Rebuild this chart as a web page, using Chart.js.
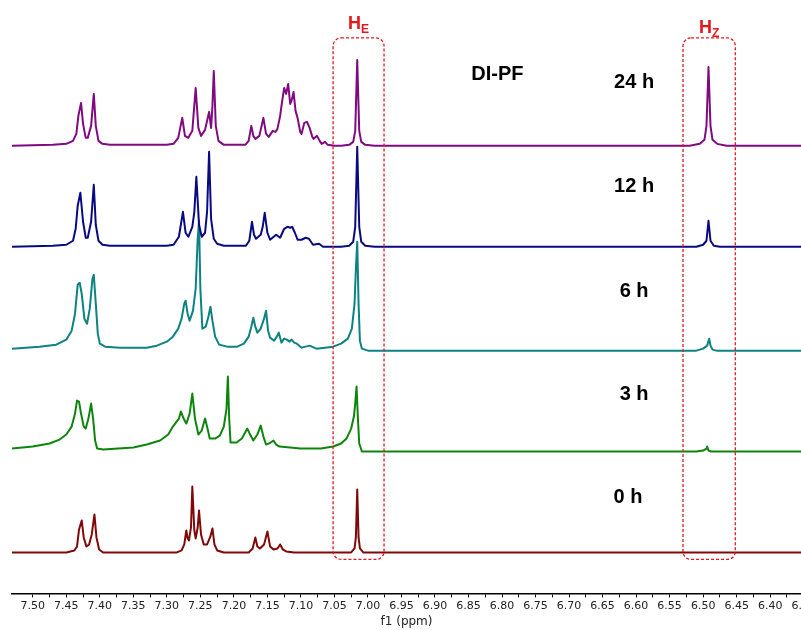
<!DOCTYPE html>
<html>
<head>
<meta charset="utf-8">
<script src="https://cdn.jsdelivr.net/npm/chart.js@4.4.1/dist/chart.umd.min.js"></script>
<style>
  html, body { margin: 0; padding: 0; background: #fff; }
  #wrap { width: 801px; height: 630px; position: relative; }
</style>
</head>
<body>
<div id="wrap"><canvas id="nmr"></canvas></div>
<script>
// stacked 1H NMR spectra (ppm / intensity)
const seriesNames = ["24 h", "12 h", "6 h", "3 h", "0 h"];
const stackOffset = [448, 347, 245, 145, 41];

const ppm24 = [7.531, 7.470, 7.450, 7.440, 7.435, 7.432, 7.428, 7.425, 7.421, 7.418, 7.413, 7.409, 7.406, 7.402, 7.396, 7.385, 7.300,
  7.290, 7.283, 7.277, 7.273, 7.268, 7.262, 7.257, 7.253, 7.249, 7.243, 7.237, 7.234, 7.232, 7.230, 7.227, 7.223, 7.215, 7.190,
  7.183, 7.178, 7.174, 7.171, 7.168, 7.162, 7.156, 7.152, 7.148, 7.142, 7.138, 7.135, 7.131, 7.129, 7.125, 7.122, 7.119, 7.116,
  7.114, 7.111, 7.108, 7.105, 7.101, 7.099, 7.095, 7.091, 7.087, 7.083, 7.081, 7.076, 7.072, 7.069, 7.064, 7.060, 7.050,
  7.040, 7.028, 7.022, 7.019, 7.016, 7.013, 7.010, 7.004, 6.990,
  6.520, 6.505, 6.498, 6.495, 6.492, 6.489, 6.486, 6.479, 6.465, 6.354];
const int24 = [0, 1, 2, 5, 12, 30, 43, 22, 8, 8, 20, 52, 20, 5, 2, 1, 1,
  2, 8, 28, 10, 8, 15, 58, 18, 10, 16, 34, 18, 40, 75, 20, 5, 1, 1,
  1, 5, 20, 10, 7, 10, 28, 12, 9, 15, 14, 17, 30, 40, 58, 52, 62, 42,
  45, 54, 35, 28, 14, 12, 23, 24, 18, 9, 7, 10, 5, 2, 4, 1, 0,
  0, 1, 4, 15, 86, 15, 4, 1, 0,
  0, 2, 6, 20, 79, 20, 6, 2, 0, 0];

const ppm12 = [7.531, 7.470, 7.450, 7.440, 7.436, 7.433, 7.429, 7.425, 7.421, 7.418, 7.413, 7.409, 7.406, 7.402, 7.396, 7.385, 7.300,
  7.290, 7.282, 7.276, 7.272, 7.268, 7.262, 7.259, 7.256, 7.252, 7.248, 7.243, 7.240, 7.237, 7.234, 7.230, 7.225, 7.215, 7.190,
  7.182, 7.177, 7.173, 7.170, 7.167, 7.160, 7.157, 7.154, 7.150, 7.146, 7.137, 7.131, 7.125, 7.120, 7.116, 7.113, 7.109,
  7.105, 7.099, 7.093, 7.088, 7.082, 7.073, 7.067,
  7.040, 7.028, 7.022, 7.019, 7.016, 7.013, 7.010, 7.004, 6.990,
  6.510, 6.500, 6.495, 6.492, 6.489, 6.484, 6.475, 6.354];
const int12 = [0, 1, 2, 6, 18, 41, 54, 25, 9, 9, 25, 62, 22, 6, 2, 1, 1,
  2, 10, 35, 14, 10, 20, 35, 70, 22, 10, 14, 35, 95, 28, 8, 3, 1, 1,
  1, 6, 25, 12, 8, 12, 20, 34, 14, 7, 12, 9, 18, 20, 19, 20, 14,
  7, 7, 9, 8, 2, 3, 0,
  0, 1, 5, 20, 100, 20, 5, 1, 0,
  0, 2, 6, 26, 6, 1, 0, 0];

const ppm6 = [7.531, 7.490, 7.465, 7.450, 7.442, 7.437, 7.433, 7.430, 7.427, 7.423, 7.419, 7.415, 7.411, 7.409, 7.406, 7.403, 7.400, 7.392, 7.370, 7.330,
  7.315, 7.300, 7.291, 7.283, 7.278, 7.274, 7.272, 7.269, 7.266, 7.261, 7.257, 7.254, 7.252, 7.250, 7.247, 7.242, 7.238, 7.235, 7.232, 7.228, 7.222, 7.210, 7.195,
  7.185, 7.178, 7.174, 7.171, 7.168, 7.165, 7.160, 7.155, 7.152, 7.149, 7.146, 7.140, 7.136, 7.133, 7.129, 7.125, 7.121, 7.117, 7.114, 7.110, 7.106, 7.099, 7.093, 7.087,
  7.077, 7.064, 7.052, 7.040, 7.030, 7.024, 7.020, 7.018, 7.016, 7.014, 7.012, 7.009, 7.000,
  6.510, 6.500, 6.494, 6.491, 6.489, 6.486, 6.480, 6.354];
const int6 = [0, 2, 4, 9, 18, 35, 64, 66, 55, 30, 25, 40, 70, 74, 45, 15, 5, 2, 1, 1,
  3, 7, 12, 20, 30, 45, 48, 35, 28, 38, 60, 110, 128, 60, 20, 22, 32, 42, 28, 12, 4, 2, 2,
  5, 12, 22, 31, 22, 16, 20, 30, 38, 18, 11, 8, 12, 16, 6, 10, 9, 7, 9, 6, 5, 1, 2, 3,
  0, 1, 2, 5, 10, 20, 45, 80, 107, 45, 8, 0, -2,
  -2, 0, 3, 10, 3, -1, -2, -2];

const ppm3 = [7.531, 7.500, 7.475, 7.460, 7.450, 7.442, 7.437, 7.434, 7.431, 7.428, 7.424, 7.421, 7.417, 7.413, 7.410, 7.407, 7.404, 7.395,
  7.350, 7.330, 7.310, 7.298, 7.291, 7.282, 7.279, 7.275, 7.271, 7.266, 7.262, 7.258, 7.253, 7.248, 7.243, 7.240, 7.236, 7.228,
  7.221, 7.215, 7.211, 7.209, 7.207, 7.205, 7.196, 7.188, 7.180, 7.175, 7.171, 7.165, 7.160, 7.156, 7.152, 7.145, 7.141, 7.137,
  7.132, 7.116, 7.101, 7.070, 7.052, 7.040, 7.032, 7.025, 7.021, 7.019, 7.017, 7.015, 7.013, 7.009,
  6.510, 6.500, 6.495, 6.494, 6.492, 6.488, 6.354];
const int3 = [0, 2, 5, 9, 14, 22, 35, 48, 47, 35, 22, 20, 30, 45, 30, 8, 0, -1,
  1, 4, 8, 14, 22, 30, 37, 30, 25, 35, 55, 30, 14, 18, 30, 22, 10, 10,
  13, 22, 40, 72, 30, 6, 6, 10, 20, 13, 8, 14, 23, 12, 4, 6, 8, 4,
  2, 1, 0, 0, 2, 5, 10, 20, 32, 45, 62, 30, 5, -3,
  -3, -2, 0, 2, -2, -3, -3];

const ppm0 = [7.531, 7.450, 7.438, 7.434, 7.431, 7.427, 7.424, 7.420, 7.416, 7.412, 7.408, 7.405, 7.401, 7.395,
  7.285, 7.278, 7.274, 7.271, 7.269, 7.267, 7.264, 7.262, 7.259, 7.257, 7.254, 7.252, 7.249, 7.245, 7.240, 7.235, 7.232, 7.229, 7.225, 7.215,
  7.178, 7.172, 7.168, 7.165, 7.161, 7.155, 7.150, 7.146, 7.141, 7.135, 7.131, 7.127, 7.122, 7.110,
  7.025, 7.020, 7.018, 7.016, 7.014, 7.012, 7.007, 6.354];
const int0 = [0, 0, 2, 6, 23, 32, 15, 6, 8, 18, 38, 15, 3, 0,
  0, 2, 8, 22, 14, 12, 25, 66, 22, 14, 25, 42, 18, 8, 8, 16, 24, 8, 2, 0,
  0, 4, 15, 6, 4, 8, 21, 6, 3, 4, 8, 3, 1, 0,
  0, 4, 15, 63, 15, 4, 0, 0];

const seriesPpm = [ppm24, ppm12, ppm6, ppm3, ppm0];
const seriesInt = [int24, int12, int6, int3, int0];
const seriesColors = ["#800a80", "#0a0a80", "#0d8282", "#0d850d", "#800808"];

// axis ticks
const tickValues = [7.50, 7.45, 7.40, 7.35, 7.30, 7.25, 7.20, 7.15, 7.10, 7.05, 7.00,
  6.95, 6.90, 6.85, 6.80, 6.75, 6.70, 6.65, 6.60, 6.55, 6.50, 6.45, 6.40, 6.35];

// highlighted regions and text labels
const regionNames = ["E", "Z"];
const regionFrom = [7.052, 6.530];
const regionTo = [6.976, 6.452];
const regionTop = 556, regionBottom = 34;
const regionLabelY = [565, 561];

const stackLabelPpm = [6.603, 6.603, 6.603, 6.603, 6.612];
const stackLabelY = [511, 407, 302, 199, 96];
const titleText = "DI-PF";
const titlePpm = 6.807, titleY = 519;

const red = "#e3171d";
const boldFont = "'Liberation Sans', Arial, sans-serif";

const overlay = {
  id: "overlay",
  afterDatasetsDraw(chart) {
    const { ctx, scales: { x, y } } = chart;
    ctx.save();
    // dashed boxes
    ctx.strokeStyle = red;
    ctx.lineWidth = 1.3;
    ctx.setLineDash([3, 2]);
    regionFrom.forEach((from, i) => {
      const x0 = x.getPixelForValue(from), x1 = x.getPixelForValue(regionTo[i]);
      const y0 = y.getPixelForValue(regionTop), y1 = y.getPixelForValue(regionBottom);
      ctx.beginPath();
      ctx.roundRect(x0, y0, x1 - x0, y1 - y0, 8);
      ctx.stroke();

      // H with subscript
      ctx.fillStyle = red;
      ctx.textBaseline = "alphabetic";
      ctx.textAlign = "left";
      ctx.font = "bold 18px " + boldFont;
      const wH = ctx.measureText("H").width;
      ctx.font = "bold 12px " + boldFont;
      const wS = ctx.measureText(regionNames[i]).width;
      const cx = (x0 + x1) / 2;
      const by = y.getPixelForValue(regionLabelY[i]);
      const left = cx - (wH + wS) / 2;
      ctx.font = "bold 18px " + boldFont;
      ctx.fillText("H", left, by);
      ctx.font = "bold 12px " + boldFont;
      ctx.fillText(regionNames[i], left + wH, by + 4);
    });
    ctx.setLineDash([]);

    // time labels and title
    ctx.fillStyle = "#000";
    ctx.textAlign = "center";
    ctx.textBaseline = "middle";
    ctx.font = "bold 20px " + boldFont;
    seriesNames.forEach((name, i) => {
      ctx.fillText(name, x.getPixelForValue(stackLabelPpm[i]), y.getPixelForValue(stackLabelY[i]));
    });
    ctx.fillText(titleText, x.getPixelForValue(titlePpm), y.getPixelForValue(titleY));
    ctx.restore();
  }
};

const datasets = seriesNames.map((name, i) => ({
  label: name,
  data: seriesPpm[i].map((p, k) => ({ x: p, y: stackOffset[i] + seriesInt[i][k] })),
  borderColor: seriesColors[i],
  borderWidth: 2,
  pointRadius: 0,
  tension: 0,
  borderJoinStyle: "round",
  fill: false
}));

new Chart(document.getElementById("nmr"), {
  type: "line",
  data: { datasets },
  plugins: [overlay],
  options: {
    responsive: true,
    maintainAspectRatio: false,
    animation: false,
    layout: { padding: { left: 12, right: 0, top: 0, bottom: 0 } },
    plugins: { legend: { display: false }, tooltip: { enabled: false } },
    scales: {
      x: {
        type: "linear",
        reverse: true,
        min: 6.354,
        max: 7.531,
        afterBuildTicks: (scale) => {
          const t = [];
          tickValues.forEach((v, i) => {
            t.push({ value: v });
            if (i < tickValues.length - 1) t.push({ value: (v + tickValues[i + 1]) / 2, minor: true });
          });
          scale.ticks = t;
        },
        afterFit: (scale) => { scale.paddingLeft = 0; scale.paddingRight = 0; },
        ticks: {
          autoSkip: false,
          maxRotation: 0,
          padding: 2,
          color: "#222",
          font: { family: "'DejaVu Sans', Verdana, sans-serif", size: 11 },
          callback: (value, index, ticks) => ticks[index].minor ? "" : value.toFixed(2)
        },
        grid: { drawOnChartArea: false, drawTicks: true, tickLength: 4, color: "#000" },
        border: { color: "#000", width: 1.5 },
        title: {
          display: true,
          text: "f1 (ppm)",
          color: "#222",
          font: { family: "'DejaVu Sans', Verdana, sans-serif", size: 12 },
          padding: { top: 0, bottom: 1 }
        }
      },
      y: { display: false, min: 0, max: 594 }
    }
  }
});
</script>
</body>
</html>
